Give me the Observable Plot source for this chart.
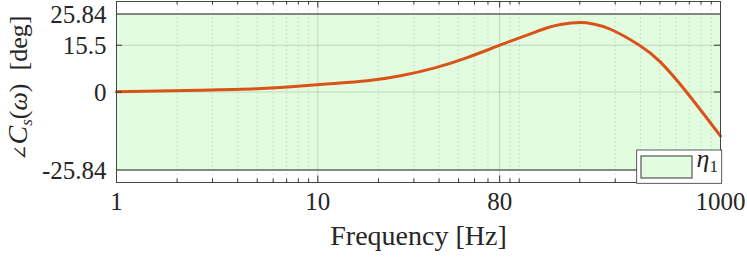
<!DOCTYPE html>
<html>
<head>
<meta charset="utf-8">
<script src="https://cdn.jsdelivr.net/npm/d3@7"></script>
<script src="https://cdn.jsdelivr.net/npm/@observablehq/plot@0.6"></script>
<style>
  html, body { margin: 0; padding: 0; background: #fff; }
  #chart { width: 747px; height: 259px; }
</style>
</head>
<body>
<div id="chart"></div>
<script>
// ---- data ----
const freq  = [1, 2.6, 5, 8.2, 12, 17.6, 25.8, 37.7, 55.2, 80.9, 118.3, 138, 160.7, 201.8, 235, 284, 393.6, 503.5, 677.6, 1000];
const phase = [0.05, 0.6, 1.1, 2.0, 2.8, 3.7, 5.4, 7.9, 11.4, 15.6, 19.7, 21.3, 22.4, 23.0, 22.5, 20.8, 15.6, 9.9, 0.0, -14.6];
const bandLimits = [-25.84, 25.84];
const xTicks = [1, 10, 80, 1000];
const xTickLabels = ["1", "10", "80", "1000"];
const yTicks = [-25.84, 0, 15.5, 25.84];
const yTickLabels = ["-25.84", "0", "15.5", "25.84"];
const xMinor = [2,3,4,5,6,7,8,9,20,30,40,50,60,70,90,100,200,300,400,500,600,700,800,900];
const xLabel = "Frequency [Hz]";
const yLabelKey = "Y_LABEL";
const legendKey = "LEGEND_LABEL";

const curveData = freq.map((f, i) => ({f, p: phase[i]}));
const textColor = "#262626";
const font = "'Liberation Serif', 'Times New Roman', serif";

const chart = Plot.plot({
  width: 747,
  height: 259,
  marginLeft: 116,
  marginRight: 27,
  marginTop: 1,
  marginBottom: 77,
  style: {fontFamily: font, color: textColor, background: "white", overflow: "visible"},
  x: {type: "log", domain: [1, 1000], axis: null},
  y: {domain: [-30, 30], axis: null},
  marks: [
    // tolerance band
    Plot.rect([bandLimits], {y1: d => d[0], y2: d => d[1], fill: "#e2fce0"}),
    // grid
    Plot.ruleX(xMinor, {stroke: "#000", strokeOpacity: 0.18, strokeWidth: 0.8, strokeDasharray: "1.5,2.5"}),
    Plot.ruleX([10, 80], {stroke: "#000", strokeOpacity: 0.15, strokeWidth: 1}),
    Plot.ruleY([0, 15.5], {stroke: "#000", strokeOpacity: 0.15, strokeWidth: 1}),
    // band edges
    Plot.ruleY(bandLimits, {stroke: "#606060", strokeWidth: 1.6}),
    // curve
    Plot.line(curveData, {x: "f", y: "p", stroke: "#d95319", strokeWidth: 3, curve: "natural"}),
    // frame
    Plot.frame({stroke: "#444", strokeWidth: 1}),
    // inward ticks
    Plot.tickX(xMinor, {stroke: "#333", insetTop: 177.5}),
    Plot.tickX(xMinor, {stroke: "#333", insetBottom: 177.5}),
    Plot.tickX([10, 80], {stroke: "#333", insetTop: 174.5}),
    Plot.tickX([10, 80], {stroke: "#333", insetBottom: 174.5}),
    Plot.tickY([0, 15.5], {stroke: "#333", insetRight: 598}),
    Plot.tickY([0, 15.5], {stroke: "#333", insetLeft: 598}),
    // tick labels
    Plot.text(xTicks, {x: d => d, text: (d, i) => xTickLabels[i], frameAnchor: "bottom", dy: 27, fontSize: 25, fill: textColor}),
    Plot.text(yTicks, {y: d => d, text: (d, i) => yTickLabels[i], frameAnchor: "left", dx: -10, dy: 1, textAnchor: "end", fontSize: 25, fill: textColor}),
    Plot.text([xLabel], {text: d => d, frameAnchor: "bottom", dy: 62, fontSize: 28, fill: textColor}),
    Plot.text([yLabelKey], {text: d => d, frameAnchor: "left", dx: -98, dy: -4, rotate: -90, fontSize: 26, fill: textColor}),
    // legend
    Plot.rect([legendKey], {insetLeft: 520.7, insetRight: -1.7, insetTop: 149, insetBottom: -1.3, fill: "white", stroke: "#333", strokeWidth: 0.8}),
    Plot.rect([legendKey], {insetLeft: 525, insetRight: 28, insetTop: 155, insetBottom: 4, fill: "#e2fce0", stroke: "#555", strokeWidth: 1.2}),
    Plot.text([legendKey], {text: d => d, frameAnchor: "bottom-right", dx: -24, dy: -16, textAnchor: "start", fontSize: 26, fill: textColor})
  ]
});

document.getElementById("chart").appendChild(chart);

function findText(key) {
  return d3.select(chart).selectAll("text").filter(function () { return this.textContent === key; });
}

// rich text for the y label and legend entry
const yl = findText(yLabelKey);
yl.text(null)
  .attr("text-anchor", "middle")
  .style("font-family", "'Liberation Serif', serif");
yl.append("tspan").style("font-family", "'DejaVu Serif', serif").attr("font-size", "19").text("∠");
yl.append("tspan").attr("font-style", "italic").attr("font-size", "28").text("C");
yl.append("tspan").attr("font-style", "italic").attr("font-size", "17").attr("dy", "5").text("s");
yl.append("tspan").attr("dy", "-5").text("(");
yl.append("tspan").attr("font-style", "italic").text("ω");
yl.append("tspan").text(")\u2002[deg]");

const lt = findText(legendKey);
lt.text(null).style("font-family", "'Liberation Serif', serif");
lt.append("tspan").attr("font-style", "italic").text("η");
lt.append("tspan").attr("font-size", "17").attr("dy", "5").text("1");
</script>
</body>
</html>
